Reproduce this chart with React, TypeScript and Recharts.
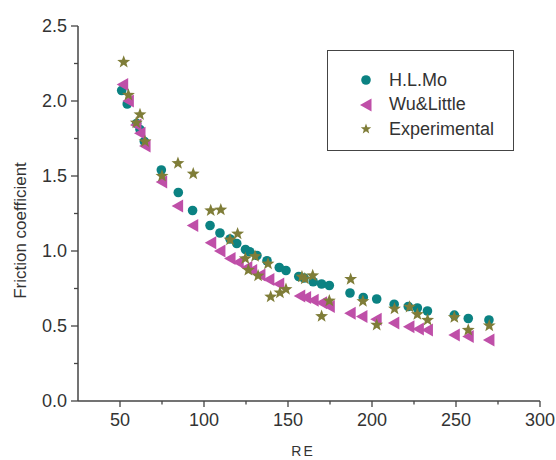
import React from "react";
import { ScatterChart, Scatter, XAxis, YAxis } from "recharts";

// Reynolds number (RE) and friction coefficient per series
const moRe = [51, 54.3, 59.9, 61.9, 64.5, 74.6, 84.7, 93.2, 103.6, 109.5, 115.5, 119.5, 124.7, 127.2, 131.5, 137.5, 144.8, 148.8, 156.4, 159.5, 165, 170, 174.6, 186.9, 194.8, 202.8, 213.2, 221.6, 227, 233, 249, 257.3, 269.6];
const moCf = [2.07, 1.98, 1.85, 1.81, 1.73, 1.54, 1.39, 1.27, 1.17, 1.12, 1.08, 1.05, 1.01, 0.995, 0.97, 0.935, 0.89, 0.87, 0.83, 0.82, 0.795, 0.78, 0.77, 0.72, 0.69, 0.68, 0.645, 0.63, 0.62, 0.6, 0.573, 0.55, 0.54];

const wuRe = [51.6, 55, 59.5, 61.9, 64.9, 74.8, 84.3, 93.3, 104, 109.5, 115.5, 120.4, 125.5, 128.4, 133.3, 138.6, 144.5, 157, 160.5, 165, 170, 174.6, 187, 194, 202.5, 213, 222, 227.6, 233, 249, 257.3, 269.6];
const wuCf = [2.11, 2.0, 1.84, 1.785, 1.7, 1.46, 1.3, 1.17, 1.055, 1.0, 0.95, 0.925, 0.89, 0.87, 0.84, 0.81, 0.78, 0.7, 0.69, 0.672, 0.655, 0.63, 0.585, 0.563, 0.545, 0.52, 0.495, 0.48, 0.473, 0.44, 0.43, 0.407];

const expRe = [52.2, 55, 59.7, 61.9, 64.9, 75, 84.5, 93.6, 104, 110, 115.5, 120, 124.6, 126.4, 130.4, 132.2, 138.1, 139.7, 145.2, 148.8, 158.3, 160, 164.7, 170, 174.6, 187.3, 194.6, 202.8, 213.4, 222.4, 227, 233.1, 249, 257.3, 269.8];
const expCf = [2.26, 2.04, 1.855, 1.91, 1.73, 1.5, 1.585, 1.515, 1.27, 1.275, 1.075, 1.115, 0.95, 0.873, 0.965, 0.835, 0.915, 0.695, 0.722, 0.745, 0.828, 0.815, 0.836, 0.565, 0.668, 0.812, 0.665, 0.507, 0.615, 0.627, 0.578, 0.54, 0.558, 0.473, 0.502];

const xTicks = [50, 75, 100, 125, 150, 175, 200, 225, 250, 275, 300];
const yTicks = [0, 0.25, 0.5, 0.75, 1, 1.25, 1.5, 1.75, 2, 2.25, 2.5];

const TEAL = "#0b8282";
const MAGENTA = "#bf4fa8";
const OLIVE = "#7f7d38";
const AXIS = "#444";
const TXT = "#333";
const FONT = "'Liberation Sans', Arial, sans-serif";

const toPoints = (re: number[], cf: number[]) => re.map((r, i) => ({ re: r, cf: cf[i] }));

const moData = toPoints(moRe, moCf);
const wuData = toPoints(wuRe, wuCf);
const expData = toPoints(expRe, expCf);

function Dot({ cx, cy, color = TEAL }: any) {
  return <circle cx={cx} cy={cy} r={4.8} fill={color} />;
}

function LeftTri({ cx, cy, color = MAGENTA }: any) {
  const pts = `${cx - 6},${cy} ${cx + 5.5},${cy - 6.5} ${cx + 5.5},${cy + 6.5}`;
  return <polygon points={pts} fill={color} />;
}

function Star({ cx, cy, color = OLIVE, rad = 6.8 }: any) {
  const pts: string[] = [];
  for (let i = 0; i < 10; i++) {
    const r = i % 2 === 0 ? rad : rad * 0.42;
    const a = -Math.PI / 2 + (i * Math.PI) / 5;
    pts.push(`${cx + r * Math.cos(a)},${cy + r * Math.sin(a)}`);
  }
  return <polygon points={pts.join(" ")} fill={color} />;
}

function XTick({ x, y, payload }: any) {
  const major = payload.value % 50 === 0;
  return (
    <g>
      <line x1={x} x2={x} y1={y} y2={y + (major ? 6 : 3.5)} stroke={AXIS} strokeWidth={1.3} />
      {major && (
        <text x={x} y={y + 25} textAnchor="middle" fontSize={18} fill={TXT} fontFamily={FONT}>
          {payload.value}
        </text>
      )}
    </g>
  );
}

function YTick({ x, y, payload }: any) {
  const major = Math.abs(payload.value * 2 - Math.round(payload.value * 2)) < 1e-6;
  return (
    <g>
      <line x1={x} x2={x - (major ? 7 : 4)} y1={y} y2={y} stroke={AXIS} strokeWidth={1.3} />
      {major && (
        <text x={x - 11} y={y + 6} textAnchor="end" fontSize={18} fill={TXT} fontFamily={FONT}>
          {payload.value.toFixed(1)}
        </text>
      )}
    </g>
  );
}

const legendItems = [
  { name: "H.L.Mo", marker: <Dot cx={9} cy={9} color={TEAL} /> },
  { name: "Wu&Little", marker: <LeftTri cx={9} cy={9} color={MAGENTA} /> },
  { name: "Experimental", marker: <Star cx={9} cy={9} color={OLIVE} rad={5.5} /> },
];

export default function App() {
  return (
    <div style={{ position: "absolute", left: 0, top: 0, width: 556, height: 460, background: "#fff" }}>
      <ScatterChart width={556} height={460} margin={{ top: 26, right: 16, bottom: 19, left: 18 }}>
        <XAxis
          type="number"
          dataKey="re"
          domain={[25, 300]}
          ticks={xTicks}
          interval={0}
          allowDataOverflow
          height={40}
          tickSize={0}
          tickMargin={0}
          tickLine={false}
          tick={<XTick />}
          axisLine={{ stroke: AXIS, strokeWidth: 1.5 }}
          label={{
            content: ({ viewBox }: any) => (
              <text
                x={viewBox.x + viewBox.width / 2 - 6}
                y={viewBox.y + 55}
                textAnchor="middle"
                fontSize={14}
                letterSpacing={2}
                fill={TXT}
                fontFamily={FONT}
              >
                RE
              </text>
            ),
          }}
        />
        <YAxis
          type="number"
          dataKey="cf"
          domain={[0, 2.5]}
          ticks={yTicks}
          interval={0}
          allowDataOverflow
          width={60}
          tickSize={0}
          tickMargin={0}
          tickLine={false}
          tick={<YTick />}
          axisLine={{ stroke: AXIS, strokeWidth: 1.5 }}
          label={{
            content: ({ viewBox }: any) => {
              const cx = 20;
              const cy = viewBox.y + viewBox.height / 2 + 17;
              return (
                <text
                  x={cx}
                  y={cy}
                  transform={`rotate(-90 ${cx} ${cy})`}
                  textAnchor="middle"
                  dominantBaseline="central"
                  fontSize={17}
                  fill={TXT}
                  fontFamily={FONT}
                >
                  Friction coefficient
                </text>
              );
            },
          }}
        />
        <Scatter name="H.L.Mo" data={moData} shape={<Dot />} isAnimationActive={false} />
        <Scatter name="Wu&Little" data={wuData} shape={<LeftTri />} isAnimationActive={false} />
        <Scatter name="Experimental" data={expData} shape={<Star />} isAnimationActive={false} />
      </ScatterChart>
      <div
        style={{
          position: "absolute",
          left: 327,
          top: 50,
          width: 187,
          height: 101,
          border: `1.5px solid ${AXIS}`,
          boxSizing: "border-box",
          paddingTop: 17,
          paddingLeft: 29,
          fontFamily: FONT,
          fontSize: 18,
          color: TXT,
        }}
      >
        {legendItems.map((it) => (
          <div key={it.name} style={{ display: "flex", alignItems: "center", height: 24.5 }}>
            <svg width={18} height={18} style={{ marginRight: 14 }}>
              {it.marker}
            </svg>
            <span>{it.name}</span>
          </div>
        ))}
      </div>
    </div>
  );
}
